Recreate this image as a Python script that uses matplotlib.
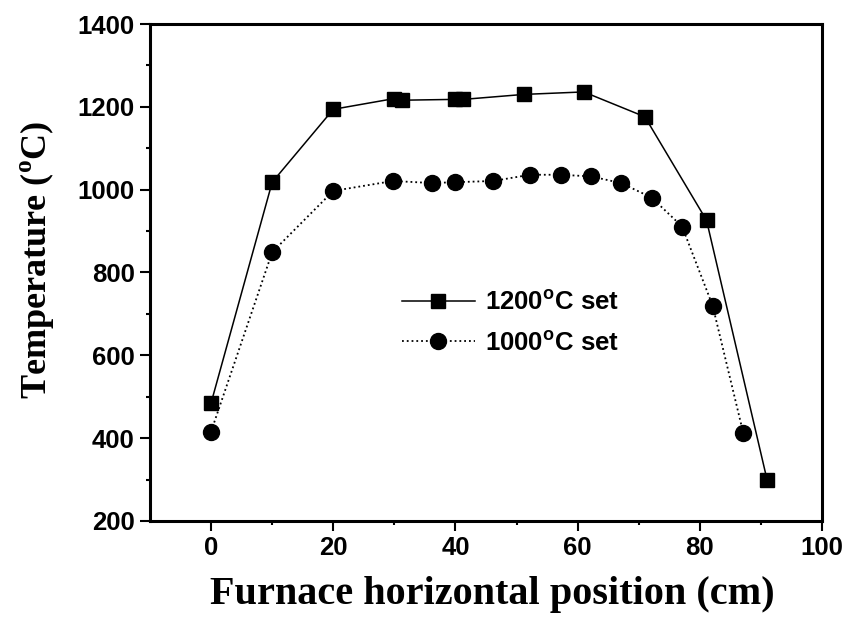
import matplotlib
matplotlib.use("Agg")
import matplotlib.pyplot as plt

# Data
x_1200 = [0, 10, 20, 30, 31.3, 40, 41.3, 51.2, 61, 71, 81.1, 91]
t_1200 = [485, 1018, 1194, 1220, 1216, 1218, 1218, 1230, 1236, 1176, 926, 300]
x_1000 = [0, 10, 20, 29.8, 36.1, 39.9, 46.2, 52.2, 57.2, 62.2, 67.1, 72.1, 77.1, 82.1, 87.1]
t_1000 = [416, 849, 997, 1021, 1016, 1018, 1021, 1036, 1036, 1032, 1016, 981, 911, 720, 413]
x_ticks = [0, 20, 40, 60, 80, 100]
y_ticks = [200, 400, 600, 800, 1000, 1200, 1400]

fig = plt.figure(figsize=(8.49, 6.21), dpi=100)
ax = fig.add_axes([150/849, 1-521/621, 672/849, 497/621])

ax.plot(x_1200, t_1200, '-', color='black', lw=1.1, marker='s', ms=9.5,
        mfc='black', mec='black', label=r'1200$^{\mathregular{o}}$C set')
ax.plot(x_1000, t_1000, ':', color='black', lw=1.3, marker='o', ms=11.5,
        mfc='black', mec='black', label=r'1000$^{\mathregular{o}}$C set')

ax.set_xlim(-10, 100)
ax.set_ylim(200, 1400)
ax.set_xticks(x_ticks)
ax.set_yticks(y_ticks)
ax.set_xticks([10, 30, 50, 70, 90], minor=True)
ax.set_yticks([300, 500, 700, 900, 1100, 1300], minor=True)

tick_font = dict(family='Liberation Sans', weight='bold', size=18.5)
ax.set_xticklabels([str(v) for v in x_ticks], **tick_font)
ax.set_yticklabels([str(v) for v in y_ticks], **tick_font)
ax.tick_params(which='major', direction='out', length=7, width=1.5, pad=4)
ax.tick_params(which='minor', direction='out', length=3, width=1.5)
for s in ax.spines.values():
    s.set_linewidth(2.2)

ax.set_xlabel('Furnace horizontal position (cm)', family='Liberation Serif',
              weight='bold', size=29)
ax.xaxis.set_label_coords(0.509, -0.11)
ax.set_ylabel(r'Temperature ($^{\mathregular{o}}$C)', family='Liberation Serif',
              weight='bold', size=26)
ax.yaxis.set_label_coords(-0.14, 0.525)

leg = ax.legend(loc='center left', bbox_to_anchor=(0.3746, 0.399), frameon=False,
                prop=dict(family='Liberation Sans', weight='bold', size=18.5),
                handlelength=2.85, handletextpad=0.4, labelspacing=0.62,
                borderpad=0, borderaxespad=0)

fig.savefig('out.png', dpi=100)
